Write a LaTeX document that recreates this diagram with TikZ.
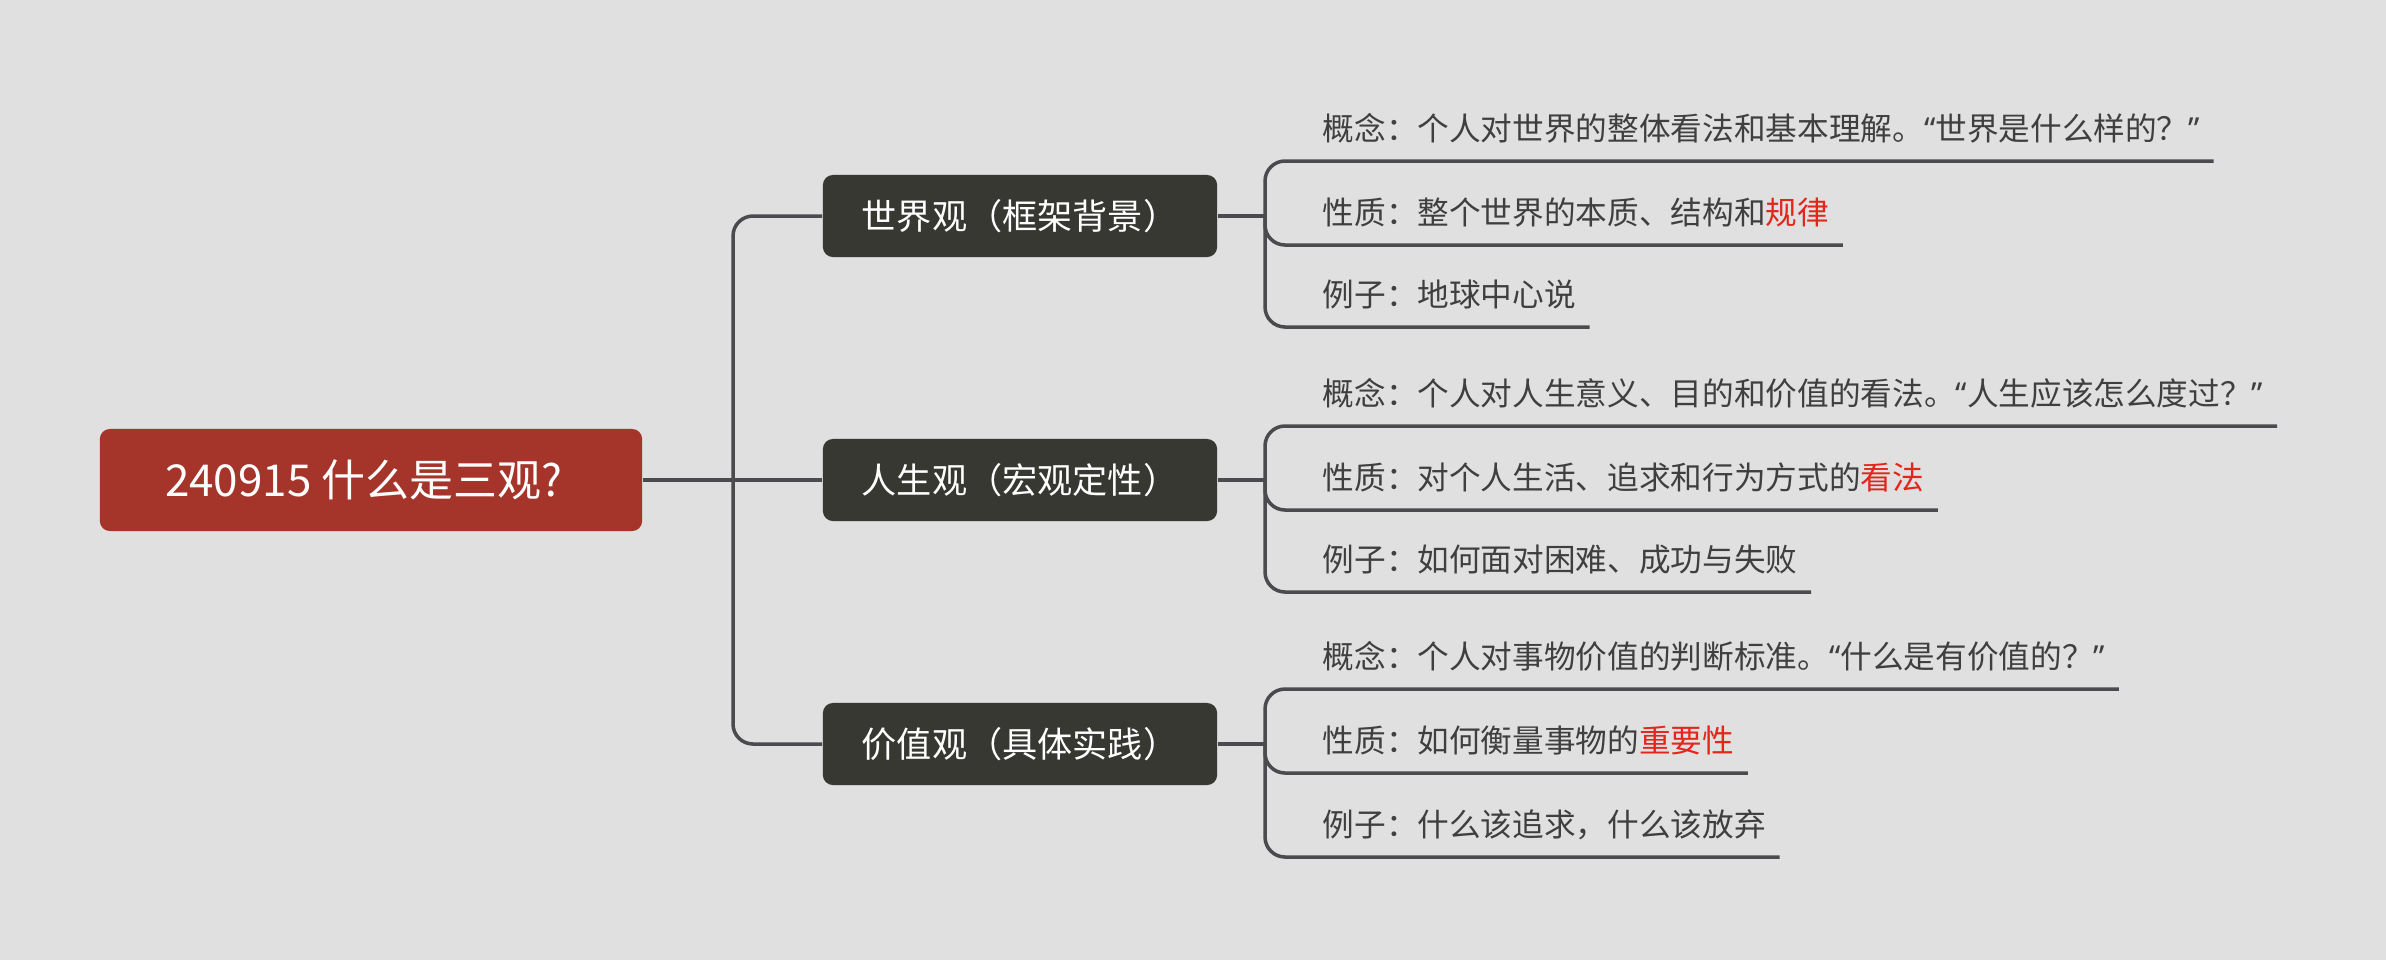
\documentclass[tikz,border=0pt]{standalone}
\usepackage{fontspec}
\newfontfamily\cjk{Noto Sans CJK SC}
\newfontfamily\latn{Noto Sans}
\usepackage{xcolor}
\usepackage{tikz}
\usetikzlibrary{positioning}
\definecolor{bggray}{HTML}{E0E0E0}
\definecolor{rootred}{HTML}{A5352A}
\definecolor{boxdark}{HTML}{383833}
\definecolor{linegray}{HTML}{4A4A4F}
\definecolor{txtgray}{HTML}{3F3F3F}
\definecolor{hlred}{HTML}{E3261C}
\newcommand{\openq}{{\latn “}}
\newcommand{\closeq}{{\latn ”}}

\begin{document}
\begin{tikzpicture}[
        x=0.01cm, y=-0.01cm,
        rootbox/.style={fill=rootred, rounded corners=0.1cm,
                        minimum width=5.42cm, minimum height=1.02cm,
                        text=white, font=\cjk\fontsize{12.5}{15}\selectfont},
        topicbox/.style={fill=boxdark, rounded corners=0.1cm,
                         minimum width=3.94cm, minimum height=0.82cm,
                         text=white, font=\cjk\fontsize{10}{12}\selectfont},
        leaf/.style={anchor=south west, inner xsep=0.13cm, inner ysep=0pt,
                     text height=0.26cm, text depth=0.2cm,
                     text=txtgray, font=\cjk\fontsize{9}{11}\selectfont},
        link/.style={draw=linegray, line width=1pt, rounded corners=0.2cm}
    ]
      \fill[bggray] (0,0) rectangle (2386,960);
      \useasboundingbox (0,0) rectangle (2386,960);

      % root and topics
      \node[rootbox] (root) at (371,480) {\hspace*{-0.15cm}240915 什么是三观?};
      \node[topicbox] (world) at (1020,216) {世界观（框架背景）};
      \node[topicbox] (life)  at (1020,480) {人生观（宏观定性）};
      \node[topicbox] (value) at (1020,744) {价值观（具体实践）};

      \coordinate (trunk) at (733,480);
      \coordinate (wj) at (1265,216);
      \coordinate (lj) at (1265,480);
      \coordinate (vj) at (1265,744);

      % leaves
      \node[leaf] (w1) at (1309,161) {概念：个人对世界的整体看法和基本理解。\openq 世界是什么样的？\closeq};
      \node[leaf] (w2) at (1309,245) {性质：整个世界的本质、结构和\textcolor{hlred}{规律}};
      \node[leaf] (w3) at (1309,327) {例子：地球中心说};

      \node[leaf] (l1) at (1309,426) {概念：个人对人生意义、目的和价值的看法。\openq 人生应该怎么度过？\closeq};
      \node[leaf] (l2) at (1309,510) {性质：对个人生活、追求和行为方式的\textcolor{hlred}{看法}};
      \node[leaf] (l3) at (1309,592) {例子：如何面对困难、成功与失败};

      \node[leaf] (v1) at (1309,689) {概念：个人对事物价值的判断标准。\openq 什么是有价值的？\closeq};
      \node[leaf] (v2) at (1309,773) {性质：如何衡量事物的\textcolor{hlred}{重要性}};
      \node[leaf] (v3) at (1309,857) {例子：什么该追求，什么该放弃};

      % connectors
      \draw[link] (root) -- (trunk);
      \draw[link] (trunk) |- (world);
      \draw[link] (trunk) -- (life);
      \draw[link] (trunk) |- (value);

      \draw[link] (world) -- (wj);
      \draw[link] (life) -- (lj);
      \draw[link] (value) -- (vj);

      \draw[link] (wj) |- (w1.south east);
      \draw[link] (wj) |- (w2.south east);
      \draw[link] (wj) |- (w3.south east);
      \draw[link] (lj) |- (l1.south east);
      \draw[link] (lj) |- (l2.south east);
      \draw[link] (lj) |- (l3.south east);
      \draw[link] (vj) |- (v1.south east);
      \draw[link] (vj) |- (v2.south east);
      \draw[link] (vj) |- (v3.south east);
    \end{tikzpicture}
\end{document}
